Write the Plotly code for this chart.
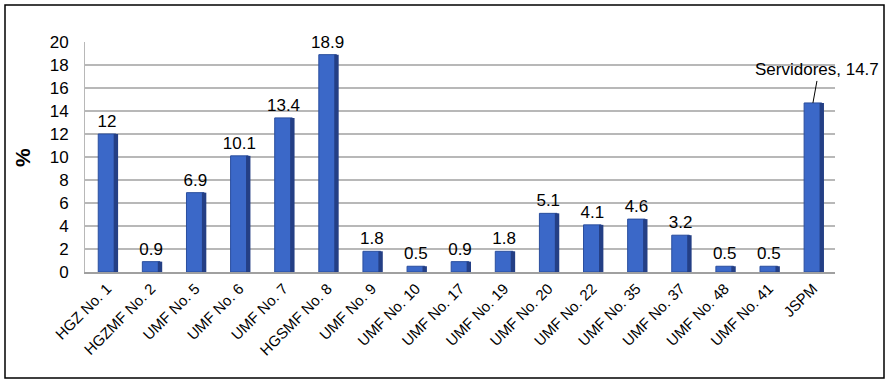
import plotly.graph_objects as go

categories = ["HGZ No. 1", "HGZMF No. 2", "UMF No. 5", "UMF No. 6", "UMF No. 7",
              "HGSMF No. 8", "UMF No. 9", "UMF No. 10", "UMF No. 17", "UMF No. 19",
              "UMF No. 20", "UMF No. 22", "UMF No. 35", "UMF No. 37", "UMF No. 48",
              "UMF No. 41", "JSPM"]
values = [12, 0.9, 6.9, 10.1, 13.4, 18.9, 1.8, 0.5, 0.9, 1.8, 5.1, 4.1, 4.6, 3.2, 0.5, 0.5, 14.7]
labels = ["12", "0.9", "6.9", "10.1", "13.4", "18.9", "1.8", "0.5", "0.9", "1.8",
          "5.1", "4.1", "4.6", "3.2", "0.5", "0.5", ""]
special_label = "Servidores, 14.7"
y_ticks = list(range(0, 21, 2))

W, H = 889, 383
ml, mr, mt, mb = 85, 54, 42, 111

fig = go.Figure()
fig.add_trace(go.Bar(
    x=categories, y=values, width=0.4,
    marker=dict(color="#3B68C8", line=dict(color="#2A4E9E", width=1)),
    text=labels, textposition="outside", constraintext="none",
    textfont=dict(family="Arial, Liberation Sans", size=17, color="black"),
    cliponaxis=False, showlegend=False, hoverinfo="x+y"))
# darker side face for pseudo-3D look
fig.add_trace(go.Bar(
    x=categories, y=values, width=0.1, offset=0.15,
    marker=dict(color="#243F85", line=dict(width=0)),
    showlegend=False, hoverinfo="skip"))

fig.add_annotation(x=categories[-1], y=values[-1], text=special_label,
                   showarrow=True, arrowhead=0, arrowwidth=1, arrowcolor="black",
                   ax=4, ay=-22, yanchor="bottom",
                   font=dict(family="Arial, Liberation Sans", size=17, color="black"))

pw = W - ml - mr
ph = H - mt - mb
fig.add_shape(type="rect", xref="paper", yref="paper",
              x0=(5 - ml) / pw, x1=(884 - ml) / pw,
              y0=-(378 - mt - ph) / ph, y1=1 + (mt - 5) / ph,
              line=dict(color="black", width=1.5), layer="below")
fig.add_annotation(xref="paper", yref="paper", x=(22 - ml) / pw, y=0.5,
                   xanchor="center", yanchor="middle",
                   text="<b>%</b>", textangle=-90, showarrow=False,
                   font=dict(size=21, color="black"))

fig.update_layout(
    width=W, height=H, barmode="overlay",
    margin=dict(l=ml, r=mr, t=mt, b=mb, autoexpand=False),
    paper_bgcolor="white", plot_bgcolor="white",
    font=dict(family="Arial, Liberation Sans", color="black"),
    xaxis=dict(tickangle=-45, tickfont=dict(size=15), showgrid=False, automargin=False,
               range=[-0.5, len(categories) - 0.5],
               showline=True, linecolor="#A0A0A0", linewidth=2, ticks=""),
    yaxis=dict(range=[0, 20], tickvals=y_ticks, tickfont=dict(size=17), automargin=False,
               ticks="outside", ticklen=12, tickcolor="rgba(0,0,0,0)",
               showgrid=True, gridcolor="#B8B8B8", gridwidth=1.5,
               showline=True, linecolor="#B8B8B8", zeroline=False),
)

fig.write_html("out.html", config={"displayModeBar": False},
               post_script="document.body.style.margin='0';document.body.style.padding='0';")
